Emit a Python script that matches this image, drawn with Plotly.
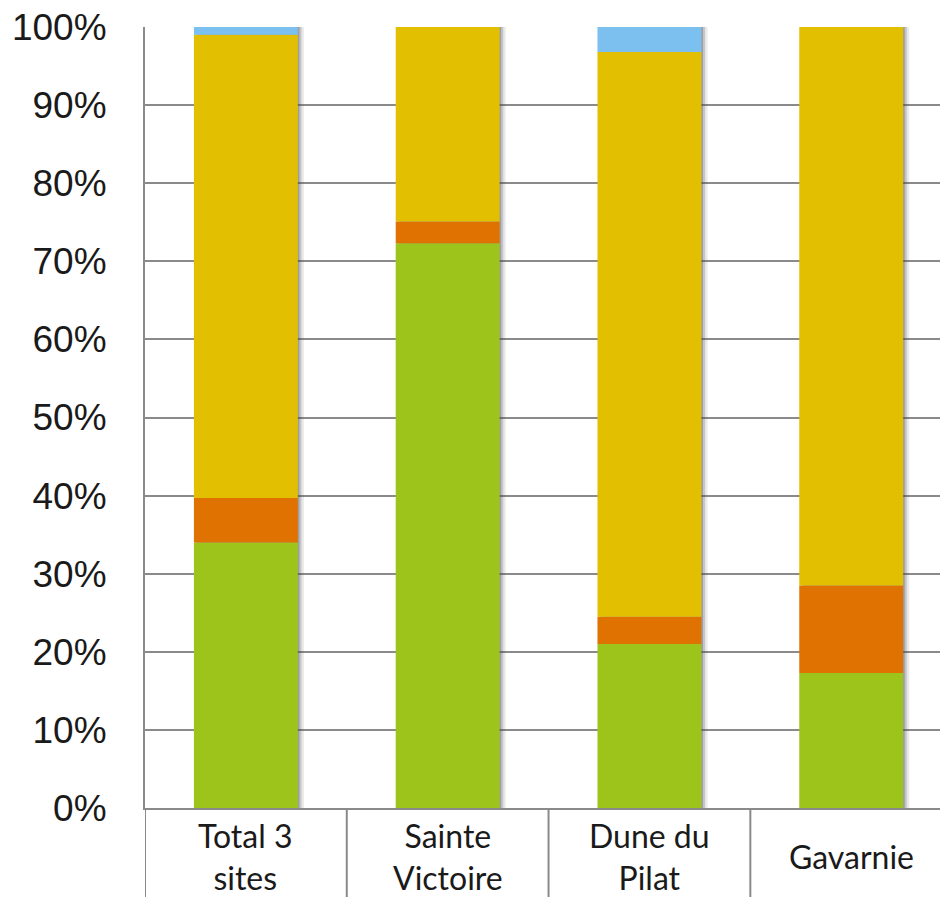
import plotly.graph_objects as go

# Share of visitors per site (fractions of 1), stacked bottom to top
categories = ["Total 3 sites", "Sainte Victoire", "Dune du Pilat", "Gavarnie"]
cat_labels = ["Total 3<br>sites", "Sainte<br>Victoire", "Dune du<br>Pilat", "Gavarnie"]
green_vals = [0.34, 0.723, 0.21, 0.173]
orange_vals = [0.057, 0.028, 0.035, 0.112]
yellow_vals = [0.593, 0.249, 0.723, 0.715]
blue_vals = [0.010, 0.000, 0.032, 0.000]
y_ticks = [0, 0.1, 0.2, 0.3, 0.4, 0.5, 0.6, 0.7, 0.8, 0.9, 1.0]

series = [
    ("green", green_vals, "#9DC41A"),
    ("orange", orange_vals, "#DF7200"),
    ("yellow", yellow_vals, "#E2BF00"),
    ("blue", blue_vals, "#7BC0EE"),
]

BAR_W = 0.515
xs = list(range(len(categories)))

fig = go.Figure()

# soft drop shadow on the right side of every bar
totals = [sum(v) for v in zip(green_vals, orange_vals, yellow_vals, blue_vals)]
for shift, alpha in [(0.03, 0.12), (0.018, 0.22), (0.008, 0.30)]:
    fig.add_trace(go.Bar(
        x=xs, y=totals, width=BAR_W, offset=-BAR_W / 2 + shift,
        marker=dict(color=f"rgba(70,70,80,{alpha})", line=dict(width=0)),
        hoverinfo="skip", showlegend=False,
    ))

base = [0.0] * len(categories)
for name, vals, color in series:
    fig.add_trace(go.Bar(
        x=xs, y=vals, base=list(base), width=BAR_W, name=name,
        marker=dict(color=color, line=dict(width=0)),
        showlegend=False,
    ))
    base = [b + v for b, v in zip(base, vals)]

# category label cells under the plot
for i, lab in enumerate(cat_labels):
    fig.add_annotation(
        x=xs[i], xref="x", y=-0.062, yref="paper",
        text=lab, showarrow=False, xanchor="center", yanchor="middle",
        font=dict(family="Lato, Open Sans, sans-serif", size=32, color="#1a1a1a"),
    )

for sep in [-0.5, 0.5, 1.5, 2.5]:
    fig.add_shape(
        type="line", xref="x", yref="paper", x0=sep, x1=sep, y0=0, y1=-0.2,
        line=dict(color="#8a8a8a", width=2),
    )

fig.update_layout(
    width=940, height=897,
    margin=dict(l=145, r=0, t=27, b=89),
    paper_bgcolor="white", plot_bgcolor="white",
    barmode="overlay",
    bargap=0.485,
)
fig.update_xaxes(
    range=[-0.5, 3.44], showticklabels=False, showgrid=False,
    zeroline=False, showline=True, linecolor="#8a8a8a", linewidth=2,
    fixedrange=True,
)
fig.update_yaxes(
    range=[0, 1], tickvals=y_ticks, tickformat=".0%",
    showgrid=True, gridcolor="#8a8a8a", gridwidth=2,
    zeroline=False, showline=True, linecolor="#8a8a8a", linewidth=2,
    ticks="", ticklabelstandoff=29,
    tickfont=dict(family="Liberation Sans, Arial, sans-serif", size=37, color="#1a1a1a"),
)

fig.write_html("out.html")
